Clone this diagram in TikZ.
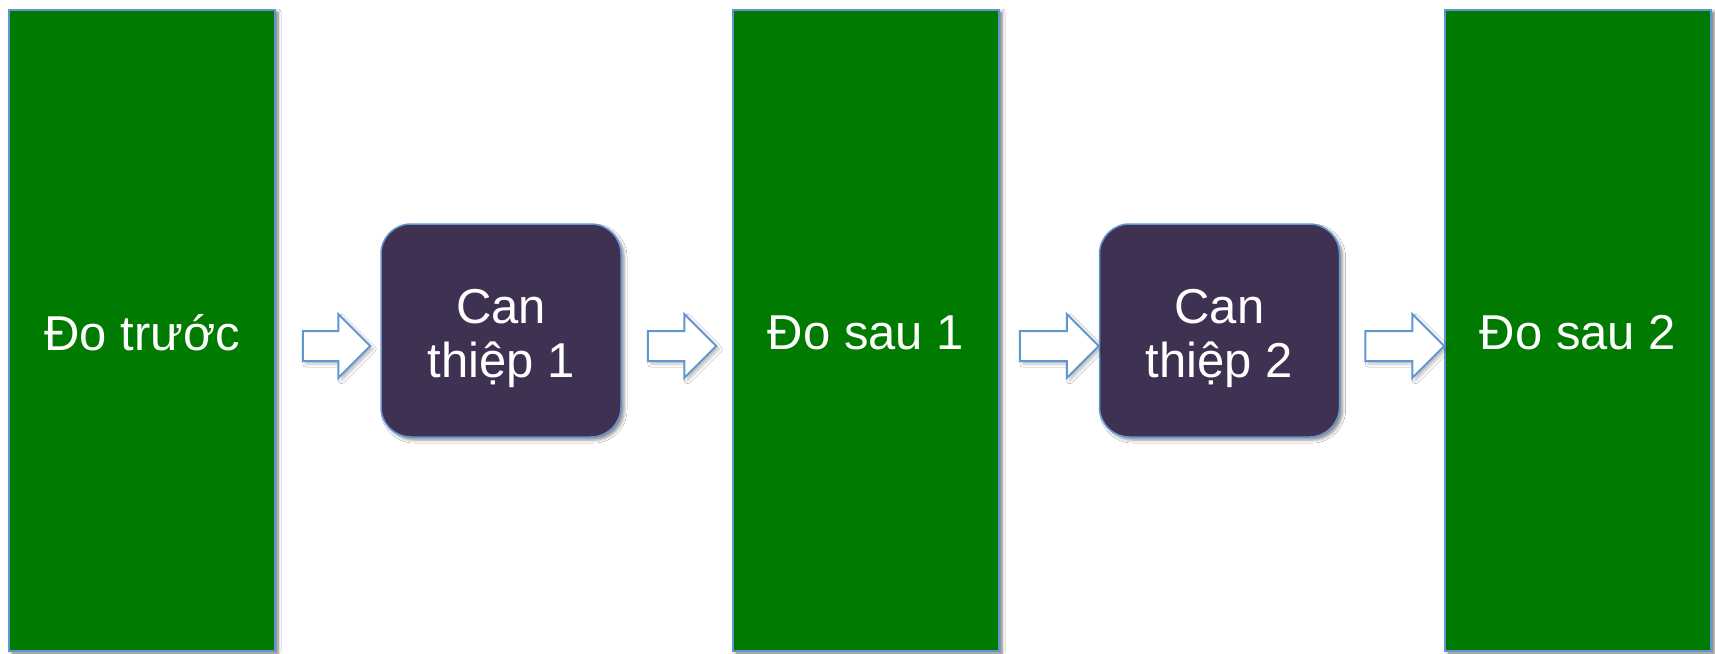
\documentclass[tikz,border=0pt]{standalone}
\usepackage{fontspec}
\setmainfont{Liberation Sans}
\usetikzlibrary{calc,shadows.blur}
\definecolor{stagegreen}{RGB}{0,122,0}
\definecolor{steppurple}{RGB}{63,49,81}
\definecolor{edgeblue}{RGB}{98,150,210}
\tikzset{
  every node/.style={text=white, font=\fontsize{49}{54}\selectfont, inner sep=0pt, align=center},
  measure/.style={draw=edgeblue, line width=1.5pt, fill=stagegreen,
    minimum width=266pt, minimum height=641pt,
    blur shadow={shadow xshift=3pt, shadow yshift=-2pt, shadow blur radius=3pt, shadow opacity=55}},
  treat/.style={draw=edgeblue, line width=1.5pt, fill=steppurple, rounded corners=30pt,
    minimum width=240pt, minimum height=213pt,
    blur shadow={shadow xshift=3pt, shadow yshift=-3pt, shadow blur radius=3pt, shadow opacity=45}},
  flow/.style={draw=edgeblue, line width=2pt, fill=white, line join=miter,
    blur shadow={shadow xshift=3pt, shadow yshift=-3pt, shadow blur radius=3pt, shadow opacity=25}}
}
% block arrow from node #1 to node #2, leaving gap #3 after #1 and gap #4 before #2
\newcommand\blockarrow[4]{%
  \coordinate (tail) at ($(#1.east)+(#3,15.5)$);
  \coordinate (tip) at ($(#2.west)+(-#4,15.5)$);
  \draw[flow] ($(tail)+(0,-15)$) -- ($(tip)+(-32,-15)$) -- ($(tip)+(-32,-32)$) -- (tip)
    -- ($(tip)+(-32,32)$) -- ($(tip)+(-32,15)$) -- ($(tail)+(0,15)$) -- cycle;
}
\begin{document}
\begin{tikzpicture}[x=1pt,y=-1pt]
  \useasboundingbox (0,0) rectangle (1715,653);
  \fill[white] (0,0) rectangle (1715,653);

  \node[measure, label={[yshift=-2pt]center:Đo trước}] (pre) at (142,330.5) {};
  \node[treat, label={[yshift=-8pt]center:Can\\thiệp 1}] (int1) at (501,330.5) {};
  \node[measure, label={[yshift=-2pt]center:Đo sau 1}] (post1) at (866,330.5) {};
  \node[treat, label={[yshift=-8pt]center:Can\\thiệp 2}] (int2) at (1219.5,330.5) {};
  \node[measure, label={[yshift=-2pt]center:Đo sau 2}] (post2) at (1578,330.5) {};

  \blockarrow{pre}{int1}{27}{10}
  \blockarrow{int1}{post1}{26}{16}
  \blockarrow{post1}{int2}{20}{0}
  \blockarrow{int2}{post2}{25}{0}
\end{tikzpicture}
\end{document}
